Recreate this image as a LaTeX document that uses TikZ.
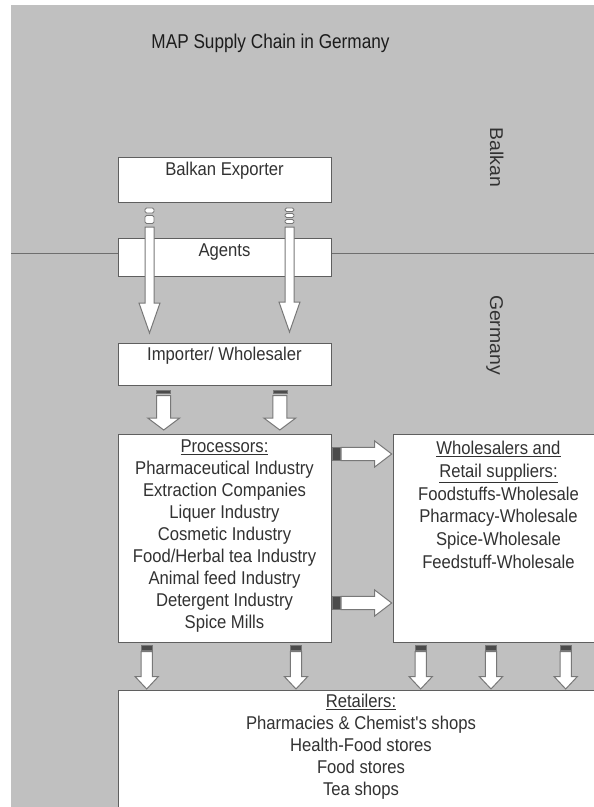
\documentclass[tikz,border=0pt]{standalone}
\usepackage{fontspec}
\setmainfont{Liberation Sans}
\newfontfamily\bodyf{Liberation Sans}[FakeStretch=0.9]
\newfontfamily\titlef{Liberation Sans}[FakeStretch=0.86]
\newfontfamily\rotf{Liberation Sans}[FakeStretch=1.05]
\definecolor{bgc}{RGB}{192,192,192}
\definecolor{boxline}{RGB}{95,95,95}
\definecolor{sepline}{RGB}{110,110,110}
\definecolor{txtc}{RGB}{50,50,50}
\definecolor{titlec}{RGB}{28,28,28}
\definecolor{arrline}{RGB}{120,120,120}
\definecolor{stripec}{RGB}{75,75,75}
\newcommand\DArrow[6]{% x center, y top, y tip, half shaft, half head, head length
  \draw[blockarrow] ({#1-#4},{#2}) -- ({#1+#4},{#2}) -- ({#1+#4},{#3-#6}) -- ({#1+#5},{#3-#6}) -- ({#1},{#3}) -- ({#1-#5},{#3-#6}) -- ({#1-#4},{#3-#6}) -- cycle;}
\newcommand\RArrow[6]{% y center, x tail, x tip, half shaft, half head, head length
  \draw[blockarrow] ({#2},{#1-#4}) -- ({#3-#6},{#1-#4}) -- ({#3-#6},{#1-#5}) -- ({#3},{#1}) -- ({#3-#6},{#1+#5}) -- ({#3-#6},{#1+#4}) -- ({#2},{#1+#4}) -- cycle;}
\tikzset{
  box/.style={draw=boxline, fill=white, line width=1.2pt, inner sep=0pt, anchor=north west},
  txt/.style={text=txtc, inner sep=0pt, align=center, font=\bodyf\fontsize{18.5}{22}\selectfont},
  rottxt/.style={text=txtc, inner sep=0pt, font=\rotf\fontsize{18.5}{22}\selectfont, rotate=-90, anchor=base},
  blockarrow/.style={draw=arrline, fill=white, line width=1pt, line join=miter},
  stripe/.style={draw=arrline, fill=stripec, line width=0.6pt},
  wstripe/.style={draw=arrline, fill=white, line width=0.8pt, rounded corners=1.5pt},
  sep/.style={draw=sepline, line width=1.4pt},
}
\begin{document}
\begin{tikzpicture}[x=1pt,y=-1pt]
\useasboundingbox (0,0) rectangle (594,807);
\clip (0,0) rectangle (594,807);
\fill[white] (0,0) rectangle (594,807);
\fill[bgc] (11,5) rectangle (600,812);

% title and region labels
\node[text=titlec, inner sep=0pt, anchor=base, font=\titlef\fontsize{20}{24}\selectfont] (title) at (270.5,48) {MAP Supply Chain in Germany};
\node[rottxt] (balkan) at (490,157.5) {Balkan};
\node[rottxt] (germany) at (490,335) {Germany};

% boxes
\node[box, minimum width=213pt, minimum height=45pt] (exp) at (118,157) {};
\node[box, minimum width=213pt, minimum height=38pt] (agents) at (118,238) {};
\node[box, minimum width=213pt, minimum height=42pt] (imp) at (118,343) {};
\node[box, minimum width=213pt, minimum height=208pt] (proc) at (118,434) {};
\node[box, minimum width=240pt, minimum height=208pt] (whole) at (393,434) {};
\node[box, minimum width=500pt, minimum height=140pt] (ret) at (118,690) {};

% border line between Balkan and Germany
\coordinate (sepL) at (11,253.5);
\coordinate (sepR) at (600,253.5);
\draw[sep] (sepL) -- (sepL -| agents.west);
\draw[sep] (sepR -| agents.east) -- (sepR);

% texts
\node[txt, anchor=base] (expt) at (224.5,175) {Balkan Exporter};
\node[txt, anchor=base] (agt) at (224.5,256.5) {Agents};
\node[txt, anchor=base] (impt) at (224.5,360.5) {Importer/ Wholesaler};
\node[txt, anchor=north] (proct) at (224.5,439.8) {\underline{Processors:}\\Pharmaceutical Industry\\Extraction Companies\\Liquer Industry\\Cosmetic Industry\\Food/Herbal tea Industry\\Animal feed Industry\\Detergent Industry\\Spice Mills};
\node[txt, anchor=north, font=\bodyf\fontsize{18.5}{22.8}\selectfont] (wholet) at (498.5,440.8) {\underline{Wholesalers and}\\\underline{Retail suppliers:}\\Foodstuffs-Wholesale\\Pharmacy-Wholesale\\Spice-Wholesale\\Feedstuff-Wholesale};
\node[txt, anchor=north] (rett) at (361,693.8) {\underline{Retailers:}\\Pharmacies \& Chemist's shops\\Health-Food stores\\Food stores\\Tea shops};

% long arrows: exporter through agents to importer
\draw[wstripe] (145,208) rectangle (154,213);
\draw[wstripe] (145,215.5) rectangle (154,223.5);
\DArrow{149.5}{227}{333}{4.5}{10.5}{30}
\draw[wstripe] (285,208) rectangle (294,211.5);
\draw[wstripe] (285,213.5) rectangle (294,217.5);
\draw[wstripe] (285,219.5) rectangle (294,223.5);
\DArrow{289.5}{227}{332}{4.5}{10.5}{30}

% importer to processors
\draw[stripe] (156.7,390) rectangle (170.7,393.5);
\DArrow{163.7}{395.5}{430}{7}{16}{12}
\draw[stripe] (272.8,390) rectangle (286.8,393.5);
\DArrow{279.8}{395.5}{430}{7}{16}{12}

% processors to wholesalers
\draw[stripe] (332,447.3) rectangle (340,460.7);
\RArrow{454}{341}{391.7}{6.7}{13}{17}
\draw[stripe] (332,596.3) rectangle (340,609.7);
\RArrow{603}{341}{391.7}{6.7}{13}{17}

% to retailers
\foreach \xx in {146.7,296,420.7,491,565.7}{
  \draw[stripe] ({\xx-5.7},645) rectangle ({\xx+5.7},650);
  \DArrow{\xx}{651.5}{689}{5.7}{11.7}{12.5}
}
\end{tikzpicture}
\end{document}
